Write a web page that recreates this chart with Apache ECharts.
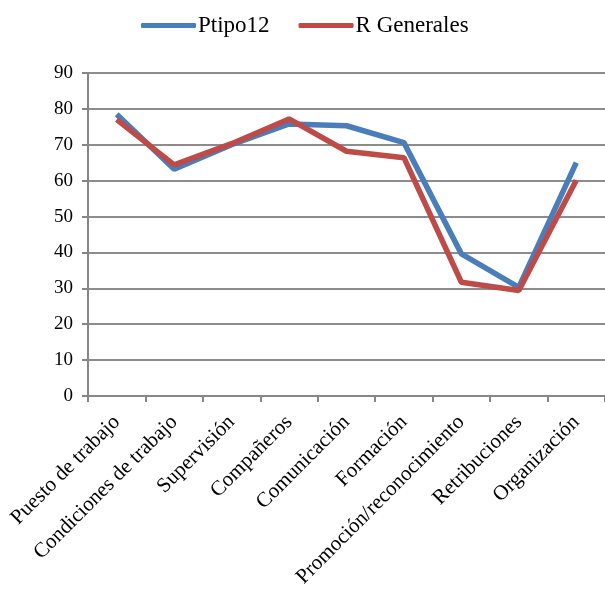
<!DOCTYPE html>
<html><head><meta charset="utf-8">
<script src="https://cdn.jsdelivr.net/npm/echarts@6/dist/echarts.min.js"></script>
<style>html,body{margin:0;padding:0;background:#fff}#c{width:605px;height:590px}</style>
</head><body><div id="c"></div>
<script>
const categories = ['Puesto de trabajo','Condiciones de trabajo','Supervisión','Compañeros','Comunicación','Formación','Promoción/reconocimiento','Retribuciones','Organización'];
const ptipo12 = [78.5, 63.2, 70.0, 75.8, 75.3, 70.6, 39.6, 30.3, 65.0];
const rGenerales = [77.0, 64.4, 70.3, 77.2, 68.2, 66.4, 31.7, 29.4, 60.1];
const yTicks = {min: 0, max: 90, interval: 10};
const FONT = '"Liberation Serif", "DejaVu Serif", serif';
const chart = echarts.init(document.getElementById('c'), null, {renderer: 'canvas'});
chart.setOption({
  animation: false,
  legend: {
    top: 9, left: 136, itemWidth: 55, itemHeight: 5, itemGap: 29,
    icon: 'roundRect',
    textStyle: {fontFamily: FONT, fontSize: 23, color: '#000', padding: [0,0,0,-3]},
    data: ['Ptipo12', 'R Generales']
  },
  grid: {left: 88, right: 0, top: 73, bottom: 194, containLabel: false, outerBoundsMode: 'none'},
  xAxis: {
    type: 'category', data: categories, boundaryGap: true,
    axisLine: {lineStyle: {color: '#868686', width: 2}},
    axisTick: {show: true, length: 6, lineStyle: {color: '#868686', width: 2}},
    axisLabel: {rotate: 45, interval: 0, margin: 23, fontFamily: FONT, fontSize: 21, color: '#000'}
  },
  yAxis: {
    type: 'value', min: yTicks.min, max: yTicks.max, interval: yTicks.interval,
    axisLine: {show: true, lineStyle: {color: '#868686', width: 2}},
    axisTick: {show: true, length: 6, lineStyle: {color: '#868686', width: 2}},
    splitLine: {lineStyle: {color: '#8c8c8c', width: 2}},
    axisLabel: {margin: 15, fontFamily: FONT, fontSize: 19, color: '#000'}
  },
  series: [
    {name: 'Ptipo12', type: 'line', data: ptipo12, showSymbol: false, symbol: 'none',
     lineStyle: {color: '#4A7EBB', width: 5.5}, itemStyle: {color: '#4A7EBB'}},
    {name: 'R Generales', type: 'line', data: rGenerales, showSymbol: false, symbol: 'none',
     lineStyle: {color: '#BE4B48', width: 5.5}, itemStyle: {color: '#BE4B48'}}
  ]
});
</script></body></html>
